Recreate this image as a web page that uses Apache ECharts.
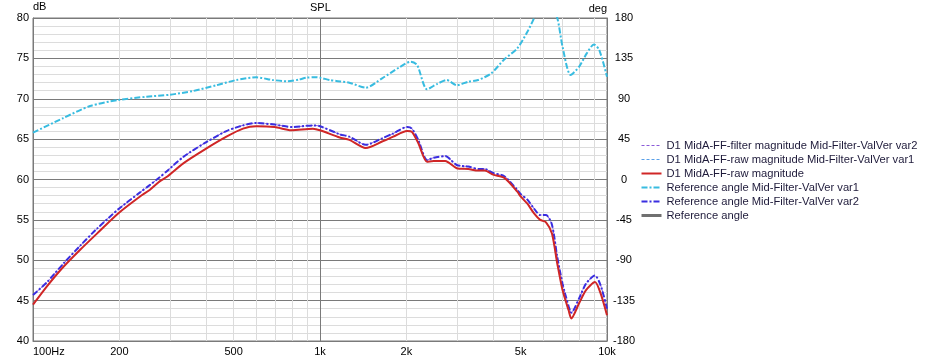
<!DOCTYPE html>
<html><head><meta charset="utf-8">
<script src="https://cdn.jsdelivr.net/npm/echarts@6/dist/echarts.min.js"></script>
<style>html,body{margin:0;padding:0;background:#fff}#c{width:927px;height:360px}</style>
</head><body><div id="c"></div>
<script>
// ---- data ----
const magFreq = [100,112,127,146,167,198,236,255,277,292,334,396,472,539,600,695,794,945,1000,1172,1266,1443,1646,1800,2010,2090,2200,2360,2490,2730,2995,3285,3555,3750,4010,4390,4870,5000,5280,5570,5850,6130,6430,6710,7000,7350,7510,8000,8450,9080,9500,10000];
const rawMag = [44.5,46.8,49.1,51.3,53.3,55.8,57.9,58.7,59.8,60.3,62.0,63.7,65.3,66.3,66.6,66.5,66.1,66.3,66.1,65.2,64.9,63.9,64.7,65.3,66.0,65.9,64.5,62.2,62.3,62.3,61.4,61.3,61.1,61.1,60.6,60.2,58.5,57.9,57.0,55.8,55.0,54.7,53.3,49.6,46.3,43.8,42.8,44.7,46.3,47.3,45.9,43.2];
const filterVar2 = [45.7,47.3,49.5,51.8,53.9,56.3,58.4,59.3,60.3,61.0,62.8,64.5,66.0,66.7,67.0,66.8,66.5,66.7,66.6,65.6,65.3,64.3,65.1,65.7,66.5,66.3,64.9,62.4,62.7,62.9,61.8,61.6,61.3,61.3,60.8,60.4,58.7,58.2,57.5,56.4,55.6,55.6,54.4,50.4,47.1,44.3,43.5,45.3,47.1,48.1,46.9,44.0];
const phaseFreq = [100,127,158,198,249,300,361,435,511,600,685,772,847,896,971,1000,1084,1140,1266,1443,1646,1890,2070,2180,2360,2555,2765,2995,3285,3555,3950,4390,4870,5280,5570,6100,6710,7000,7470,8000,8500,9000,9400,10000];
const phaseVar1 = [52.2,68.2,81.9,88.6,92.3,94.5,98.6,105.0,110.9,113.9,110.9,109.4,111.5,113.5,113.9,113.5,110.8,109.8,107.9,102.3,112.8,125.0,131.3,127.6,100.5,106.4,110.9,105.0,109.0,110.9,118.3,134.0,146.2,164.7,180.0,215.0,180.0,148.0,116.5,125.8,140.6,150.6,144.3,114.6];
const referenceAngle = [];
const xTickFreqs = [100,200,500,1000,2000,5000,10000];
const xTickLabels = ['100Hz','200','500','1k','2k','5k','10k'];
const xMinorFreqs = [200,300,400,500,600,700,800,900,2000,3000,4000,5000,6000,7000,8000,9000];
const xMajorFreqs = [100,1000,10000];
const seriesNames = [
  'D1 MidA-FF-filter magnitude Mid-Filter-ValVer var2',
  'D1 MidA-FF-raw magnitude Mid-Filter-ValVer var1',
  'D1 MidA-FF-raw magnitude',
  'Reference angle Mid-Filter-ValVer var1',
  'Reference angle Mid-Filter-ValVer var2',
  'Reference angle'
];

const pairs = (xs, ys) => xs.map((x, i) => [x, ys[i]]);
const FONT = 'Liberation Sans';
const MAJOR = '#7a7a7a', MINOR = '#dcdcdc';

const chart = echarts.init(document.getElementById('c'), null, {renderer: 'canvas'});
chart.setOption({
  animation: false,
  backgroundColor: '#fff',
  textStyle: {fontFamily: FONT},
  grid: {left: 33, right: 320, top: 18, bottom: 19, show: true, borderColor: MAJOR, borderWidth: 1},
  graphic: [{type: 'text', left: 310, top: 2, style: {text: 'SPL', fontSize: 11, fontFamily: FONT, fill: '#000'}}],
  legend: {
    orient: 'vertical', left: 640, top: 140, padding: 0, itemWidth: 20, itemHeight: 12, itemGap: 3,
    textStyle: {fontSize: 11.2, color: '#1e1a3a', fontFamily: FONT},
    lineStyle: {width: 'inherit'},
    itemStyle: {opacity: 0},
    data: seriesNames
  },
  xAxis: [{
    type: 'log', logBase: 10, min: 100, max: 10000,
    axisLine: {show: false},
    axisTick: {show: false, customValues: xMinorFreqs},
    axisLabel: {show: false},
    splitLine: {show: true, lineStyle: {color: MINOR, width: 1}},
    z: 0
  }, {
    type: 'log', logBase: 10, min: 100, max: 10000,
    axisLine: {show: true, onZero: false, lineStyle: {color: MAJOR}},
    axisTick: {show: false, customValues: xMajorFreqs},
    axisLabel: {
      customValues: xTickFreqs, color: '#000', fontSize: 11, margin: 5, fontFamily: FONT,
      alignMinLabel: 'left',
      formatter: v => { const i = xTickFreqs.indexOf(Math.round(v)); return i >= 0 ? xTickLabels[i] : ''; }
    },
    splitLine: {show: true, lineStyle: {color: MAJOR, width: 1}},
    position: 'bottom',
    z: 1
  }],
  yAxis: [{
    type: 'value', min: 40, max: 80, interval: 5, name: 'dB', nameGap: 4,
    nameTextStyle: {align: 'left', verticalAlign: 'bottom', fontSize: 11, color: '#000'},
    axisLine: {show: true, lineStyle: {color: MAJOR}},
    axisTick: {show: false},
    axisLabel: {color: '#000', fontSize: 11, margin: 4},
    splitLine: {show: true, lineStyle: {color: MAJOR}},
    minorTick: {show: false, splitNumber: 5},
    minorSplitLine: {show: true, lineStyle: {color: MINOR}}
  }, {
    type: 'value', min: -180, max: 180, interval: 45, name: 'deg', nameGap: 4, position: 'right',
    nameTextStyle: {align: 'right', verticalAlign: 'bottom', fontSize: 11, color: '#000'},
    axisLine: {show: true, lineStyle: {color: MAJOR}},
    axisTick: {show: false},
    axisLabel: {color: '#000', fontSize: 11, margin: 17, align: 'center'},
    splitLine: {show: false}
  }],
  series: [
    {name: seriesNames[0], type: 'line', xAxisIndex: 1, yAxisIndex: 0, data: pairs(magFreq, filterVar2), smooth: 0.25, symbol: 'none',
     color: '#8a5ad8', lineStyle: {width: 1, type: [3, 2]}, z: 2},
    {name: seriesNames[1], type: 'line', xAxisIndex: 1, yAxisIndex: 0, data: pairs(magFreq, rawMag), smooth: 0.25, symbol: 'none',
     color: '#5aa0e8', lineStyle: {width: 1, type: [3, 2]}, z: 2},
    {name: seriesNames[2], type: 'line', xAxisIndex: 1, yAxisIndex: 0, data: pairs(magFreq, rawMag), smooth: 0.25, symbol: 'none',
     color: '#d02626', lineStyle: {width: 2}, z: 5},
    {name: seriesNames[3], type: 'line', xAxisIndex: 1, yAxisIndex: 1, data: pairs(phaseFreq, phaseVar1), smooth: 0.25, symbol: 'none',
     color: '#38bce0', lineStyle: {width: 2, type: [6, 2, 2, 2]}, z: 3},
    {name: seriesNames[4], type: 'line', xAxisIndex: 1, yAxisIndex: 0, data: pairs(magFreq, filterVar2), smooth: 0.25, symbol: 'none',
     color: '#3a2ee0', lineStyle: {width: 2, type: [6, 2, 2, 2]}, z: 4},
    {name: seriesNames[5], type: 'line', xAxisIndex: 1, yAxisIndex: 1, data: referenceAngle, symbol: 'none',
     color: '#707070', lineStyle: {width: 3}, z: 1}
  ]
});
</script>
</body></html>
